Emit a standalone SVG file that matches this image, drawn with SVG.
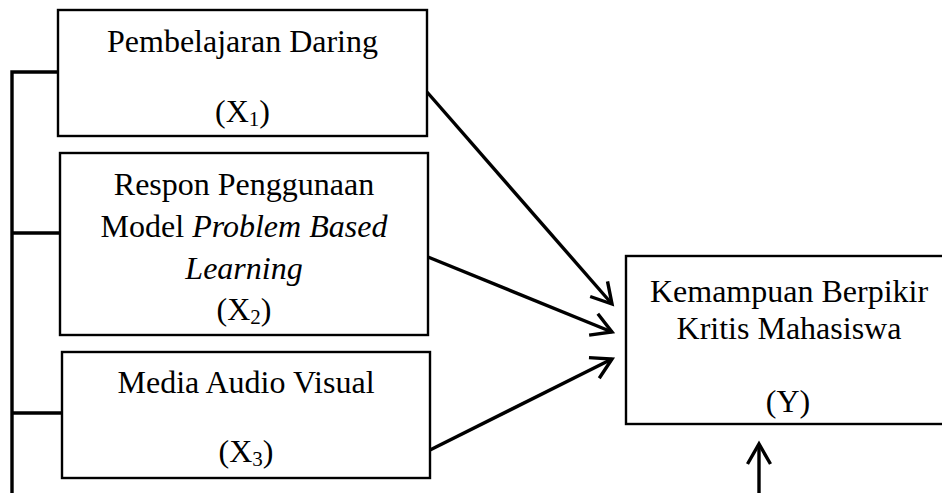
<svg xmlns="http://www.w3.org/2000/svg" width="942" height="493" viewBox="0 0 942 493">
  <style>
    .box { fill: #ffffff; stroke: #000000; stroke-width: 2.4; }
    .txt { font-family: "Liberation Serif", "Times New Roman", serif; font-size: 32px; fill: #000000; text-anchor: middle; }
    .it { font-style: italic; }
    .sub { font-size: 21px; }
    .conn { fill: none; stroke: #000000; stroke-width: 3.4; }
    .arrow { fill: none; stroke: #000000; stroke-width: 3.4; stroke-linejoin: miter; stroke-linecap: butt; }
  </style>
  <defs>
    <marker id="vhead" markerUnits="userSpaceOnUse" markerWidth="30" markerHeight="30" viewBox="-24 -15 30 30" refX="0" refY="0" orient="auto">
      <path d="M -20 -11.5 L 0 0 L -20 11.5" fill="none" stroke="#000000" stroke-width="3.4" stroke-linejoin="miter"/>
    </marker>
  </defs>

  <rect width="942" height="493" fill="#ffffff"/>

  <g id="connectors">
    <path class="conn" d="M 12 493 L 12 72 L 58 72"/>
    <path class="conn" d="M 12 233 L 60 233"/>
    <path class="conn" d="M 12 413 L 62 413"/>
    <path class="arrow" d="M 427 92 L 612 304" marker-end="url(#vhead)"/>
    <path class="arrow" d="M 428 257 L 612 332" marker-end="url(#vhead)"/>
    <path class="arrow" d="M 430 450 L 612 359" marker-end="url(#vhead)"/>
    <path class="arrow" d="M 759 493 L 759 444" marker-end="url(#vhead)"/>
  </g>

  <g id="x1">
    <rect class="box" x="58" y="10" width="369" height="126"/>
    <text class="txt" x="242.5" y="52">Pembelajaran Daring</text>
    <text class="txt" x="242.5" y="122">(X<tspan class="sub" dy="4">1</tspan><tspan dy="-4">)</tspan></text>
  </g>

  <g id="x2">
    <rect class="box" x="60" y="153" width="368" height="182"/>
    <text class="txt" x="244" y="195">Respon Penggunaan</text>
    <text class="txt" x="244" y="237">Model <tspan class="it">Problem Based</tspan></text>
    <text class="txt it" x="244" y="279">Learning</text>
    <text class="txt" x="244" y="320">(X<tspan class="sub" dy="4">2</tspan><tspan dy="-4">)</tspan></text>
  </g>

  <g id="x3">
    <rect class="box" x="62" y="352" width="368" height="126"/>
    <text class="txt" x="246" y="393">Media Audio Visual</text>
    <text class="txt" x="246" y="462">(X<tspan class="sub" dy="4">3</tspan><tspan dy="-4">)</tspan></text>
  </g>

  <g id="y">
    <rect class="box" x="626" y="256" width="330" height="168"/>
    <text class="txt" x="789" y="302">Kemampuan Berpikir</text>
    <text class="txt" x="789" y="339">Kritis Mahasiswa</text>
    <text class="txt" x="788" y="412">(Y)</text>
  </g>
</svg>
